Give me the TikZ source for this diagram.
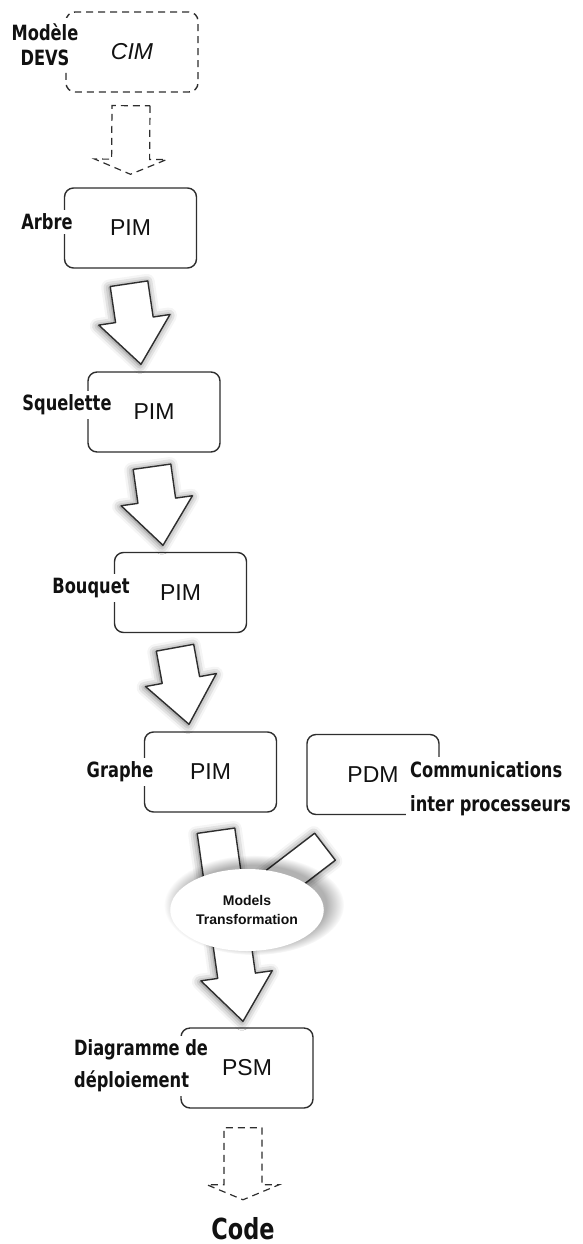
\documentclass[tikz,border=0pt]{standalone}
\usepackage{fontspec}
\setmainfont{Liberation Sans}
\newfontfamily\etiq[FakeStretch=0.86]{DejaVu Sans Condensed}
\usetikzlibrary{positioning, calc, shapes.geometric, shadows.blur, fadings}
\definecolor{trait}{HTML}{2E2E2E}
\definecolor{texte}{HTML}{111111}

\tikzset{
  boite/.style={draw=trait, line width=1.4pt, rounded corners=9pt, fill=white,
                minimum width=132pt, minimum height=80pt, text=texte,
                font=\fontsize{23}{26}\selectfont},
  tirets/.style={boite, dash pattern=on 7pt off 5pt},
  etiquette/.style={fill=white, inner sep=4pt, align=left, text=texte,
                    font=\etiq\bfseries\fontsize{21}{25}\selectfont},
  fleche/.style={draw=trait, line width=1.4pt, fill=white, line join=round,
                 blur shadow={shadow xshift=-1pt, shadow yshift=-1pt,
                              shadow blur radius=8pt, shadow opacity=60}},
  flechetirets/.style={draw=trait, line width=1.2pt, dash pattern=on 7pt off 5pt},
}

% queue, pointe, longueur de tete
\newcommand{\fleche}[4][fleche]{%
  \coordinate (base) at ($(#3)!#4!(#2)$);
  \draw[#1] ($(#2)!19pt!90:(#3)$) -- ($(base)!19pt!90:(#3)$)
    -- ($(base)!36pt!90:(#3)$) -- (#3) -- ($(base)!36pt!-90:(#3)$)
    -- ($(base)!19pt!-90:(#3)$) -- ($(#2)!19pt!-90:(#3)$) -- cycle;}

\begin{document}
\begin{tikzpicture}[x=1pt, y=-1pt]
  \useasboundingbox (0,0) rectangle (582,1244);

  % modeles
  \node[tirets] (cim) at (132,52) {\itshape CIM};
  \node[boite] (arbre) at (130.5,228) {PIM};
  \node[boite] (squel) at (154,412) {PIM};
  \node[boite] (bouquet) at (180.5,592.5) {PIM};
  \node[boite] (graphe) at (210.5,772) {PIM};
  \node[boite] (pdm) at (373,774.5) {PDM};
  \node[boite] (psm) at (247,1068) {PSM};
  \node[anchor=base, inner sep=0pt, font=\etiq\bfseries\fontsize{29}{30}\selectfont,
        text=texte] (code) at (243,1239) {Code};

  % transformations
  \coordinate (q1) at ($(cim.south)+(-1,13)$);
  \coordinate (p1) at ($(arbre.north)+(0,-13)$);
  \fleche[flechetirets]{q1}{p1}{15pt}
  \coordinate (q2) at ($(arbre.south)+(-1.5,15)$);
  \coordinate (p2) at ($(squel.north)+(-13,-7)$);
  \fleche{q2}{p2}{45pt}
  \coordinate (q3) at ($(squel.south)+(-2,14)$);
  \coordinate (p3) at ($(bouquet.north)+(-17.5,-6.5)$);
  \fleche{q3}{p3}{45pt}
  \coordinate (q4) at ($(bouquet.south)+(-5.5,14.5)$);
  \coordinate (p4) at ($(graphe.north)+(-21.5,-7)$);
  \fleche{q4}{p4}{45pt}
  \coordinate (q5) at ($(graphe.south)+(5.5,18)$);
  \coordinate (p5) at ($(psm.north)+(-4,-6)$);
  \fleche{q5}{p5}{46pt}
  \coordinate (q6) at ($(pdm.south)+(-48,31.5)$);
  \coordinate (p6) at (262,895);
  \draw[fleche] ($(q6)!17pt!90:(p6)$) -- ($(p6)!17pt!-90:(q6)$)
    -- ($(p6)!17pt!90:(q6)$) -- ($(q6)!17pt!-90:(p6)$) -- cycle;
  \fill[black, opacity=0.3, path fading=circle with fuzzy edge 20 percent]
    (254,905) ellipse [x radius=90pt, y radius=50pt];
  \node[ellipse, fill=white, minimum width=152pt, minimum height=82pt, align=center,
        font=\bfseries\fontsize{14}{19}\selectfont, text=texte]
    (transfo) at (247,910) {Models\\Transformation};
  \coordinate (q7) at ($(psm.south)+(-4,19)$);
  \coordinate (p7) at ($(code.north)+(0,-17)$);
  \fleche[flechetirets]{q7}{p7}{15pt}

  % etiquettes
  \node[etiquette, align=center, inner sep=6pt] (lcim) at (45,45) {Modèle\\DEVS};
  \node[etiquette] (larbre) at (47,222) {Arbre};
  \node[etiquette] (lsquel) at (67,405) {Squelette};
  \node[etiquette] (lbouquet) at (91,588) {Bouquet};
  \node[etiquette] (lgraphe) at (120,772) {Graphe};
  \node[etiquette, anchor=north west, font=\etiq\bfseries\fontsize{21}{34}\selectfont]
    (lpdm) at (406,757) {Communications\\inter processeurs};
  \node[etiquette, anchor=west, font=\etiq\bfseries\fontsize{21}{32}\selectfont]
    (lpsm) at (70,1066) {Diagramme de\\déploiement};
\end{tikzpicture}
\end{document}
